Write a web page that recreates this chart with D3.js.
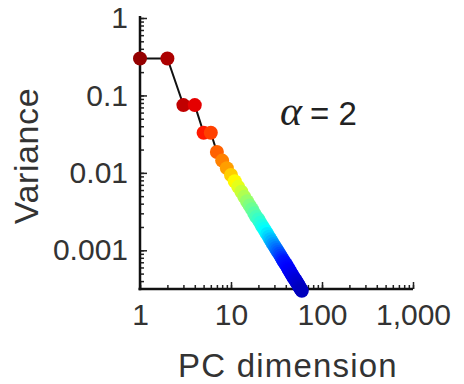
<!DOCTYPE html>
<html><head><meta charset="utf-8">
<script src="https://cdn.jsdelivr.net/npm/d3@7"></script>
<style>
html,body{margin:0;padding:0;background:#fff;}
svg{display:block;font-family:"Liberation Sans",Arial,Helvetica,sans-serif;}
</style></head>
<body><svg id="chart" width="464" height="384"></svg>
<script>
// PC dimension (x) and variance (y)
const pcDims = [1,2,3,4,5,6,7,8,9,10,11,12,13,14,15,16,17,18,19,20,21,22,23,24,25,26,27,28,29,30,
  31,32,33,34,35,36,37,38,39,40,41,42,43,44,45,46,47,48,49,50,51,52,53,54,55,56,57,58,59,60];
const variances = [0.30,0.30,0.075,0.075,0.033,0.033,0.0186,0.0144,0.0115,0.0094,0.0078,0.0066,0.0057,0.0049,0.0043,
  0.0038,0.0034,0.0030,0.0027,0.0025,0.00226,0.00206,0.0019,0.00175,0.00162,0.0015,0.00139,0.0013,0.00121,0.00114,
  0.00107,0.00101,0.00095,0.0009,0.00085,0.0008,0.00076,0.00072,0.00069,0.00066,0.00063,0.0006,0.00057,0.00055,0.00052,
  0.0005,0.00048,0.00046,0.00044,0.00043,0.00041,0.0004,0.00038,0.00037,0.00036,0.00034,0.00033,0.00032,0.00031,0.0003];
const xTickValues = [1,10,100,1000];
const xTickLabels = ["1","10","100","1,000"];
const yTickValues = [1,0.1,0.01,0.001];
const yTickLabels = ["1","0.1","0.01","0.001"];
const xTitle = "PC dimension";
const yTitle = "Variance";
// colour stops along the PC dimension (jet colormap position)
const colorStopDims = [1,2,3.5,5.5,7,9,11,16,24,38,60];
const colorStopJet  = [0.98,0.955,0.93,0.83,0.78,0.72,0.63,0.5,0.375,0.15,0.06];

function jet(t){
  const r = Math.max(0,Math.min(1, Math.min(4*t-1.5, -4*t+4.5)));
  const g = Math.max(0,Math.min(1, Math.min(4*t-0.5, -4*t+3.5)));
  const b = Math.max(0,Math.min(1, Math.min(4*t+0.5, -4*t+2.5)));
  return d3.rgb(r*255,g*255,b*255).toString();
}

const svg = d3.select("#chart");
const x = d3.scaleLog().domain([1,1000]).range([140,413]);
const y = d3.scaleLog().domain([Math.pow(10,-3.5),1]).range([289,18]);
const jetPos = d3.scaleLog().domain(colorStopDims).range(colorStopJet).clamp(true);

// axes
const minorX = [];
for (let d=1; d<1000; d*=10) for (let k=1;k<10;k++) minorX.push(d*k);
minorX.push(1000);
const minorY = [];
for (let d=0.0001; d<1; d*=10) for (let k=1;k<10;k++){ const v=d*k; if (v>=Math.pow(10,-3.5)-1e-9) minorY.push(v);} 
minorY.push(1);

const ax = svg.append("g").attr("transform","translate(0,289)");
ax.append("g").call(d3.axisBottom(x).tickValues(minorX).tickSize(-4).tickFormat(""))
  .call(g=>g.select(".domain").remove());
ax.append("g").call(d3.axisBottom(x).tickValues(xTickValues).tickSize(-7).tickFormat((d,i)=>xTickLabels[i]).tickPadding(15))
  .call(g=>g.select(".domain").remove());
ax.selectAll("line").attr("stroke","#222").attr("stroke-width",1.5);
ax.selectAll("text").attr("font-size",30).attr("fill","#333").attr("font-family","Liberation Sans, Arial, sans-serif");
ax.append("line").attr("x1",138.5).attr("x2",413).attr("y1",0).attr("y2",0).attr("stroke","#111").attr("stroke-width",2.5);

const ay = svg.append("g").attr("transform","translate(140,0)");
ay.append("g").call(d3.axisLeft(y).tickValues(minorY).tickSize(-4).tickFormat(""))
  .call(g=>g.select(".domain").remove());
ay.append("g").call(d3.axisLeft(y).tickValues(yTickValues).tickSize(-7).tickFormat((d,i)=>yTickLabels[i]).tickPadding(12))
  .call(g=>g.select(".domain").remove());
ay.selectAll("line").attr("stroke","#222").attr("stroke-width",1.5);
ay.selectAll("text").attr("font-size",30).attr("fill","#333").attr("font-family","Liberation Sans, Arial, sans-serif");
ay.append("line").attr("x1",0).attr("x2",0).attr("y1",16).attr("y2",290.2).attr("stroke","#111").attr("stroke-width",2.5);

// titles
svg.append("text").attr("x",288).attr("y",377).attr("text-anchor","middle")
  .attr("font-size",33).attr("letter-spacing",1.2).attr("fill","#333").text(xTitle);
svg.append("text").attr("transform","translate(38,156) rotate(-90)").attr("text-anchor","middle")
  .attr("font-size",34).attr("letter-spacing",0.6).attr("fill","#333").text(yTitle);

// alpha annotation
const ann = svg.append("text").attr("x",280).attr("y",125).attr("fill","#222");
ann.append("tspan").attr("font-family","Liberation Serif, Times New Roman, serif").attr("font-style","italic").attr("font-size",42).text("α");
ann.append("tspan").attr("font-size",33).attr("dx",8).text("= 2");

// data
const data = pcDims.map((d,i)=>({n:d, v:variances[i]}));
svg.append("path").datum(data)
  .attr("d", d3.line().x(d=>x(d.n)).y(d=>y(d.v)))
  .attr("fill","none").attr("stroke","#111").attr("stroke-width",2);
svg.append("g").selectAll("circle").data(data).join("circle")
  .attr("cx",d=>x(d.n)).attr("cy",d=>y(d.v)).attr("r",7)
  .attr("fill",d=>jet(jetPos(d.n)));
</script></body></html>
